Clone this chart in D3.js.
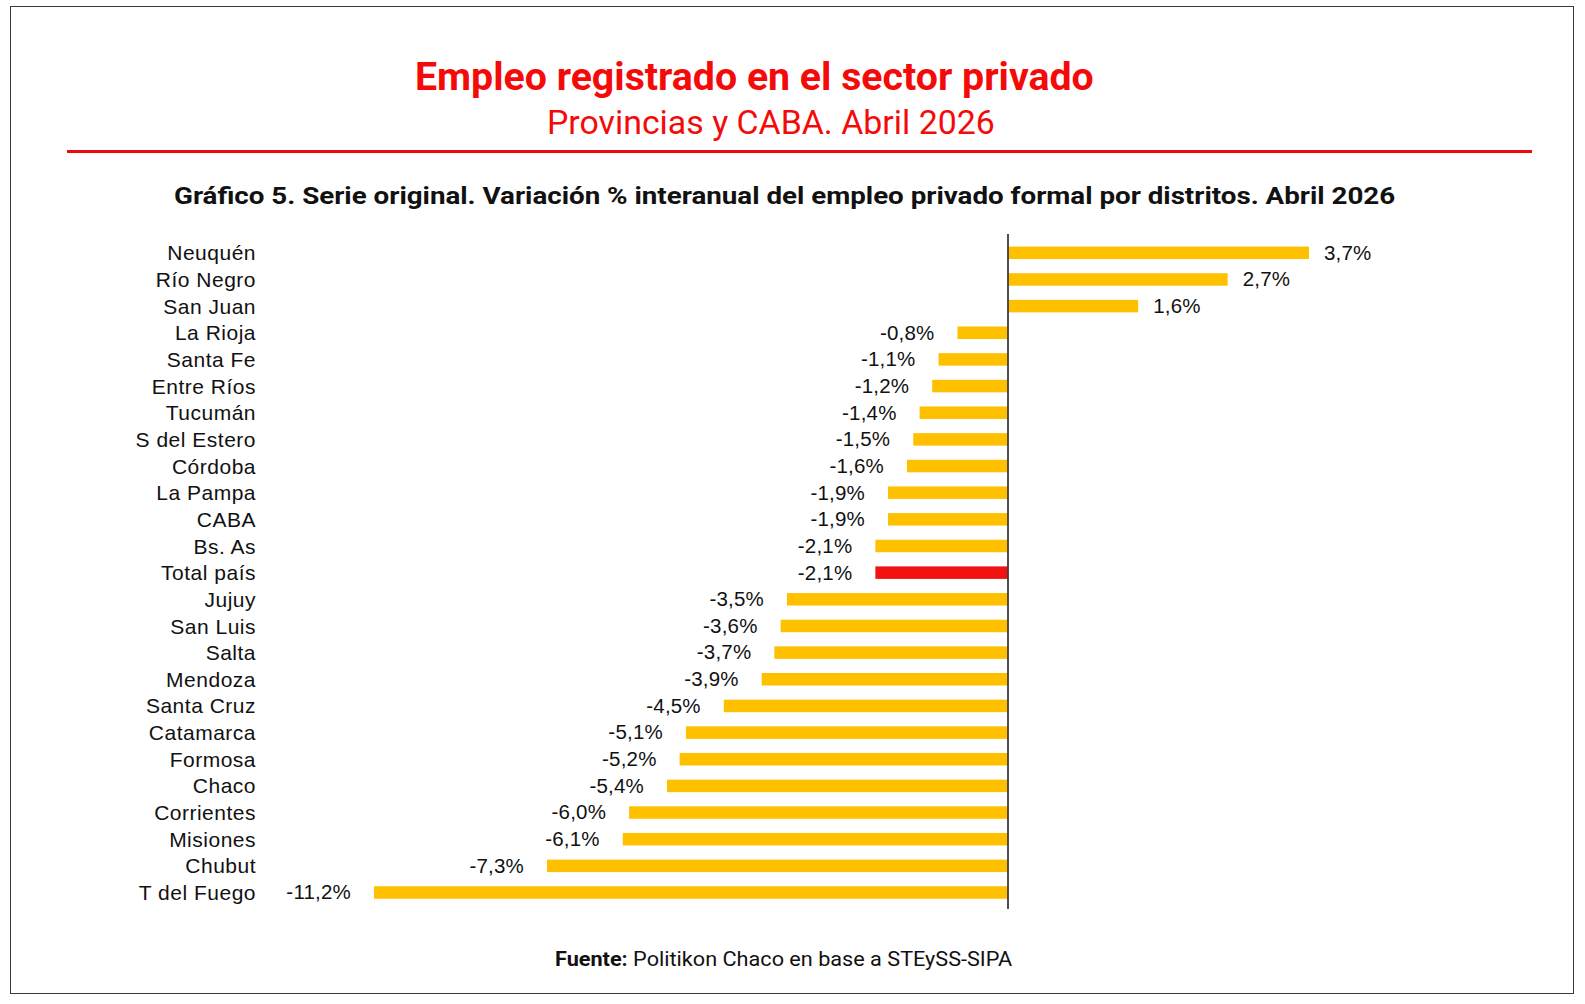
<!DOCTYPE html>
<html>
<head>
<meta charset="utf-8">
<script src="https://cdn.jsdelivr.net/npm/d3@7"></script>
<style>
  html, body { margin: 0; padding: 0; background: #ffffff; }
  svg { display: block; }
</style>
</head>
<body>
<svg id="chart" width="1585" height="1004"></svg>
<script>
const categories = ["Neuquén", "Río Negro", "San Juan", "La Rioja", "Santa Fe", "Entre Ríos",
  "Tucumán", "S del Estero", "Córdoba", "La Pampa", "CABA", "Bs. As", "Total país", "Jujuy",
  "San Luis", "Salta", "Mendoza", "Santa Cruz", "Catamarca", "Formosa", "Chaco", "Corrientes",
  "Misiones", "Chubut", "T del Fuego"];
const values = [3.7, 2.7, 1.6, -0.8, -1.1, -1.2, -1.4, -1.5, -1.6, -1.9, -1.9, -2.1, -2.1,
  -3.5, -3.6, -3.7, -3.9, -4.5, -5.1, -5.2, -5.4, -6.0, -6.1, -7.3, -11.2];
const highlight = "Total país";
const titleText = "Empleo registrado en el sector privado";
const subtitleText = "Provincias y CABA. Abril 2026";
const chartTitleText = "Gráfico 5. Serie original. Variación % interanual del empleo privado formal por distritos. Abril 2026";
const sourceBold = "Fuente:";
const sourceText = " Politikon Chaco en base a STEySS-SIPA";

const data = categories.map((c, i) => ({ cat: c, val: values[i] }));
const svg = d3.select("#chart");

// frame
svg.append("rect").attr("x", 10.5).attr("y", 6.5).attr("width", 1563).attr("height", 987)
  .attr("fill", "#fff").attr("stroke", "#3a3a3a").attr("stroke-width", 1);

function fitWidth(sel, x, width) {
  const w = sel.node().getBBox().width;
  sel.attr("transform", `translate(${x},0) scale(${width / w},1) translate(${-x},0)`);
}

const condensed = "Roboto, 'Liberation Sans', sans-serif";

const t1 = svg.append("text").attr("x", 415).attr("y", 90)
  .attr("font-family", condensed).attr("font-weight", 700).attr("font-size", 38)
  .attr("fill", "#f50a0a").text(titleText);
fitWidth(t1, 415, 679);

const t2 = svg.append("text").attr("x", 547).attr("y", 134)
  .attr("font-family", condensed).attr("font-weight", 400).attr("font-size", 34)
  .attr("fill", "#f50a0a").text(subtitleText);
fitWidth(t2, 547, 448);

svg.append("line").attr("x1", 67).attr("x2", 1532).attr("y1", 151.5).attr("y2", 151.5)
  .attr("stroke", "#f00a0a").attr("stroke-width", 3);

const t3 = svg.append("text").attr("x", 174).attr("y", 204)
  .attr("font-family", condensed).attr("font-weight", 700).attr("font-size", 24.5)
  .attr("fill", "#111").text(chartTitleText);
fitWidth(t3, 174, 1222);

const t4 = svg.append("text").attr("x", 555).attr("y", 966)
  .attr("font-family", condensed).attr("font-size", 20.5).attr("fill", "#111");
t4.append("tspan").attr("font-weight", 700).text(sourceBold);
t4.append("tspan").attr("font-weight", 400).text(sourceText);
fitWidth(t4, 555, 458);

// scales: the source compresses the outlier bar (T del Fuego), so the
// negative side is piecewise: linear down to the second-lowest value, then compressed.
const sortedVals = values.slice().sort(d3.ascending);
const x = d3.scaleLinear()
  .domain([sortedVals[0], sortedVals[1], 0, sortedVals[sortedVals.length - 1]])
  .range([374, 547, 1008, 1309]);
const y = d3.scalePoint().domain(categories).range([252.8, 892.5]);
const barH = 12.5;

const g = svg.append("g");

g.selectAll("rect.bar").data(data).join("rect").attr("class", "bar")
  .attr("x", d => Math.min(x(d.val), x(0)))
  .attr("width", d => Math.abs(x(d.val) - x(0)))
  .attr("y", d => y(d.cat) - barH / 2)
  .attr("height", barH)
  .attr("fill", d => d.cat === highlight ? "#f21212" : "#ffc000");

// zero axis
g.append("line").attr("x1", x(0)).attr("x2", x(0)).attr("y1", 234).attr("y2", 909)
  .attr("stroke", "#3c3c3c").attr("stroke-width", 1.8);

// category labels
g.selectAll("text.cat").data(data).join("text").attr("class", "cat")
  .attr("x", 256).attr("y", d => y(d.cat))
  .attr("dy", "0.36em")
  .attr("text-anchor", "end")
  .attr("font-family", "'Liberation Sans', Arial, sans-serif")
  .attr("font-size", 21).attr("letter-spacing", 0.5)
  .attr("fill", "#111").text(d => d.cat);

const fmt = v => v.toFixed(1).replace(".", ",") + "%";
g.selectAll("text.val").data(data).join("text").attr("class", "val")
  .attr("x", d => d.val >= 0 ? x(d.val) + 15 : x(d.val) - 23)
  .attr("y", d => y(d.cat) - 0.5)
  .attr("dy", "0.36em")
  .attr("text-anchor", d => d.val >= 0 ? "start" : "end")
  .attr("font-family", "'Liberation Sans', Arial, sans-serif")
  .attr("font-size", 20.5).attr("letter-spacing", 0.2)
  .attr("fill", "#111").text(d => fmt(d.val));
</script>
</body>
</html>
